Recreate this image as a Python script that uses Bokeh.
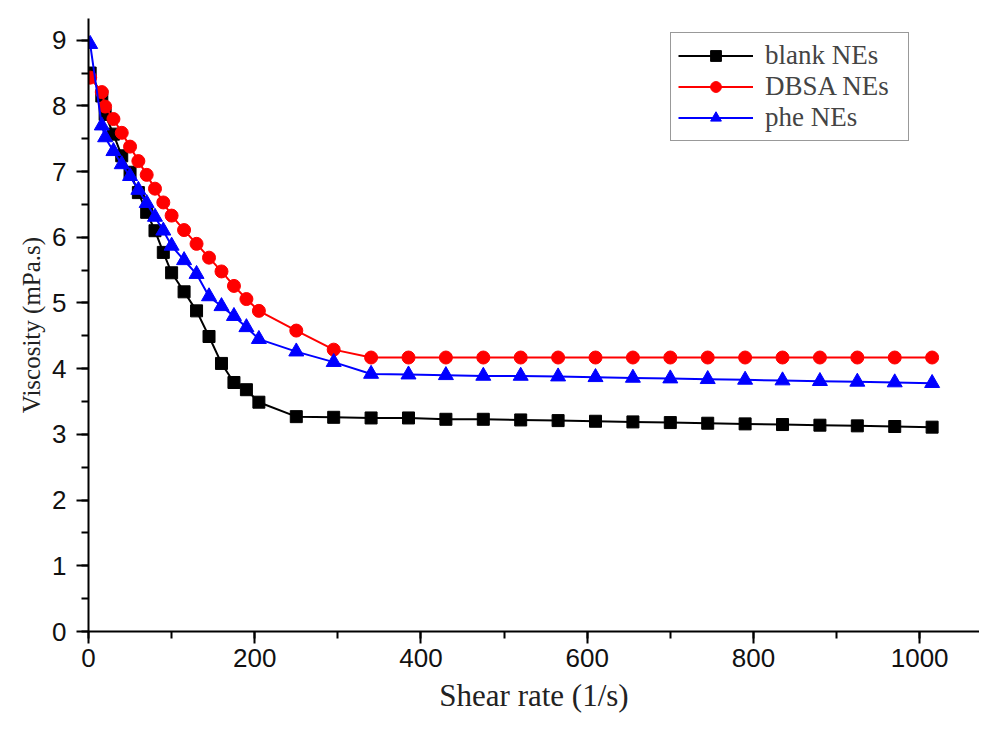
from bokeh.plotting import figure
from bokeh.models import Range1d, Legend, LegendItem, FixedTicker
from bokeh.embed import file_html
from bokeh.resources import INLINE

# Shear rate (1/s)
shear = [2, 16, 20, 30, 40, 50, 60, 70, 80, 90, 100, 115, 130, 145, 160, 175, 190, 205,
         250, 295, 340, 385, 430, 475, 520, 565, 610, 655, 700, 745, 790, 835, 880, 925, 970, 1015]

blank = [8.50, 8.15, 7.87, 7.57, 7.24, 6.99, 6.68, 6.38, 6.10, 5.77, 5.46, 5.17, 4.88, 4.49, 4.08, 3.79, 3.68, 3.49,
         3.27, 3.26, 3.25, 3.25, 3.23, 3.23, 3.22, 3.21, 3.20, 3.19, 3.18, 3.17, 3.16, 3.15, 3.14, 3.13, 3.12, 3.11]

dbsa = [8.43, 8.21, 7.99, 7.80, 7.59, 7.38, 7.16, 6.95, 6.74, 6.53, 6.33, 6.11, 5.90, 5.69, 5.48, 5.26, 5.06, 4.88,
        4.58, 4.29, 4.17, 4.17, 4.17, 4.17, 4.17, 4.17, 4.17, 4.17, 4.17, 4.17, 4.17, 4.17, 4.17, 4.17, 4.17, 4.17]

phe = [8.94, 7.70, 7.52, 7.31, 7.11, 6.93, 6.72, 6.52, 6.31, 6.10, 5.87, 5.65, 5.44, 5.10, 4.95, 4.80, 4.63, 4.45,
       4.26, 4.10, 3.92, 3.91, 3.90, 3.89, 3.89, 3.88, 3.87, 3.86, 3.85, 3.84, 3.83, 3.82, 3.81, 3.80, 3.79, 3.78]

x_ticks = [0, 200, 400, 600, 800, 1000]
y_ticks = [0, 1, 2, 3, 4, 5, 6, 7, 8, 9]

p = figure(width=979, height=715, output_backend="svg", toolbar_location=None,
           x_range=Range1d(0, 1072), y_range=Range1d(0, 9.33),
           min_border_left=88, min_border_right=0, min_border_top=18, min_border_bottom=82)
p.outline_line_color = None
p.xgrid.visible = False
p.ygrid.visible = False
p.background_fill_color = "white"

series = [
    ("blank NEs", blank, "#000000", "square", 12),
    ("DBSA NEs", dbsa, "#ff0000", "circle", 13),
    ("phe NEs", phe, "#0000ff", "triangle", 15),
]
items = []
for label, ys, color, marker, size in series:
    ln = p.line(shear, ys, line_color=color, line_width=2)
    sc = p.scatter(shear, ys, marker=marker, size=size, fill_color=color, line_color=color)
    items.append(LegendItem(label=label, renderers=[ln, sc]))

legend = Legend(items=items, location=(582, 490))
legend.label_text_font = "Liberation Serif"
legend.label_text_font_size = "27px"
legend.label_height = 27
legend.glyph_height = 27
legend.glyph_width = 75
legend.label_width = 136
legend.label_standoff = 12
legend.spacing = 0
legend.padding = 7
legend.margin = 0
legend.border_line_color = "#333333"
legend.border_line_width = 1.5
legend.background_fill_alpha = 1
p.add_layout(legend, "center")

for ax in (p.xaxis[0], p.yaxis[0]):
    ax.axis_line_width = 2
    ax.major_tick_line_width = 2
    ax.minor_tick_line_width = 2
    ax.major_tick_in = 0
    ax.minor_tick_in = 0
    ax.major_tick_out = 12
    ax.minor_tick_out = 7
    ax.major_label_text_font = "Liberation Sans"
    ax.major_label_text_font_size = "26px"
    ax.major_label_text_color = "#111111"
    ax.axis_label_text_font = "Liberation Serif"
    ax.axis_label_text_font_style = "normal"
    ax.axis_label_text_color = "#222222"

p.xaxis.ticker = FixedTicker(ticks=x_ticks, minor_ticks=list(range(0, 1100, 100)))
p.yaxis.ticker = FixedTicker(ticks=y_ticks, minor_ticks=[i * 0.5 for i in range(19)])
p.xaxis.axis_label = "Shear rate (1/s)"
p.yaxis.axis_label = "Viscosity (mPa.s)"
p.xaxis.axis_label_text_font_size = "31px"
p.yaxis.axis_label_text_font_size = "25px"
p.xaxis.major_label_standoff = 5
p.yaxis.major_label_standoff = 10
p.xaxis.axis_label_standoff = 8
p.yaxis.axis_label_standoff = 4

open("out.html", "w").write(file_html(p, INLINE))
